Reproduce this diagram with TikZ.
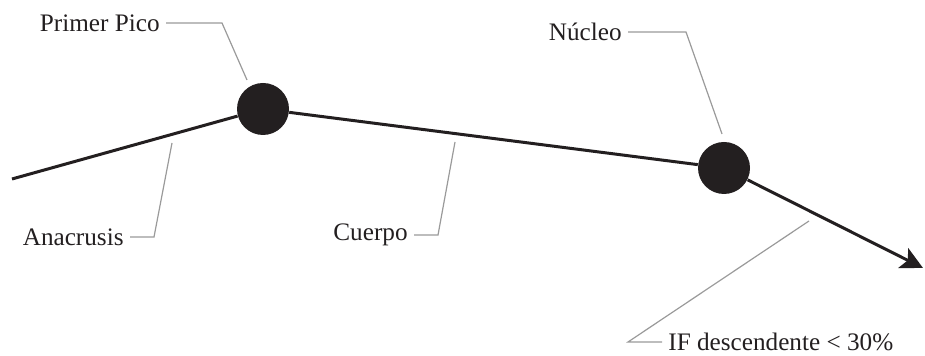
\documentclass[tikz,border=0pt]{standalone}
\usepackage{fontspec}
\setmainfont{Liberation Serif}
\usepackage{tikz}
\usetikzlibrary{arrows.meta, positioning}
\definecolor{curvedark}{HTML}{231F20}
\definecolor{leadergray}{HTML}{9A9A9A}
\tikzset{
  curve/.style={line width=1.5pt, draw=curvedark},
  curvea/.style={curve, -{Stealth[length=11pt, width=11pt, inset=2.5pt]}},
  dot/.style={circle, fill=curvedark, minimum size=26pt, inner sep=0pt},
  lbl/.style={font=\fontsize{12.6}{15}\selectfont, text=curvedark,
              inner xsep=3pt, inner ysep=0pt},
  leader/.style={line width=0.6pt, draw=leadergray},
}

\begin{document}
\begin{tikzpicture}[x=0.5pt, y=0.5pt]
  \useasboundingbox (0,0) rectangle (925,356);

  % Contour
  \coordinate (start) at (12,177);
  \coordinate (tip) at (923,88);
  \node[dot] (pico) at (263,247) {};
  \node[dot] (nucleo) at (724,188) {};
  \draw[curve] (start) -- (pico);
  \draw[curve] (pico) -- (nucleo);
  \draw[curvea] (nucleo) -- (tip);

  % Labels
  \node[lbl, anchor=east] (lpico) at (166,333) {Primer Pico};
  \node[lbl, anchor=east] (lnucleo) at (628,324) {Núcleo};
  \node[lbl, anchor=east] (lana) at (130,119) {Anacrusis};
  \node[lbl, anchor=east] (lcuerpo) at (414,121) {Cuerpo};
  \node[lbl, anchor=west] (lif) at (662,14) {IF descendente < 30\%};

  % Leaders
  \coordinate (epico) at (247,276);
  \coordinate (enucleo) at (722,222);
  \coordinate (eana) at (172,213);
  \coordinate (ecuerpo) at (455,214);
  \coordinate (eif) at (809,135);
  \draw[leader] (lpico.east) -- (222,333) -- (epico);
  \draw[leader] (lnucleo.east) -- (686,324) -- (enucleo);
  \draw[leader] (lana.east) -- (154,119) -- (eana);
  \draw[leader] (lcuerpo.east) -- (438,121) -- (ecuerpo);
  \draw[leader] (lif.west) -- (628,14) -- (eif);
\end{tikzpicture}
\end{document}
